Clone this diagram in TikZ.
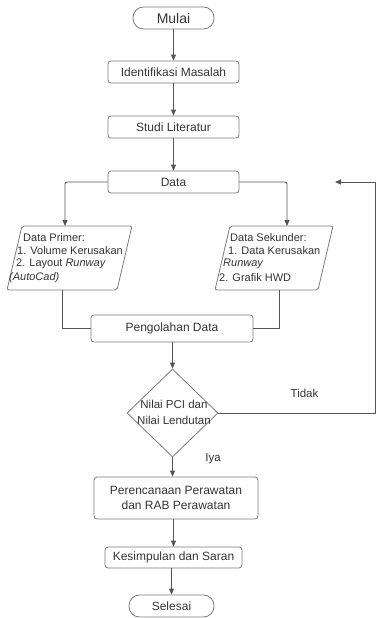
\documentclass[tikz,border=0pt]{standalone}
\usepackage{fontspec}
\setmainfont{Liberation Sans}
\usetikzlibrary{arrows.meta,shapes.geometric}
\definecolor{ln}{HTML}{555555}
\definecolor{bd}{HTML}{7A7A7A}
\definecolor{tx}{HTML}{333333}
\begin{document}
\begin{tikzpicture}[x=1pt,y=-1pt,
  box/.style={draw=bd,line width=0.8pt,rounded corners=3pt,inner sep=0pt,text=tx,font=\fontsize{12}{15}\selectfont,align=center},
  term/.style={box,rounded corners=10.5pt},
  lbl/.style={inner sep=0pt,text=tx,font=\fontsize{11}{13}\selectfont,anchor=west},
  conn/.style={draw=ln,line width=0.9pt},
  arr/.style={conn,-{Triangle[width=5pt,length=6pt]}}
]
\useasboundingbox (0,0) rectangle (376,618);
% nodes
\node[term,minimum width=81pt,minimum height=22pt,font=\fontsize{14}{16}\selectfont] (mulai) at (173.5,18) {Mulai};
\node[box,minimum width=131pt,minimum height=22pt] (ident) at (173.5,72) {Identifikasi Masalah};
\node[box,minimum width=131pt,minimum height=22pt] (studi) at (173.5,127) {Studi Literatur};
\node[box,minimum width=131pt,minimum height=22pt] (data) at (173.5,182) {Data};
% Data Primer parallelogram
\coordinate (p1) at (22,226); \coordinate (p2) at (132,226);
\coordinate (p3) at (117,290); \coordinate (p4) at (7,290);
\draw[draw=bd,line width=0.8pt,rounded corners=2pt] (p1) -- (p2) -- (p3) -- (p4) -- cycle;
\coordinate (primIn) at (65,226);
\coordinate (primOut) at (62,290);
\node[lbl] (pr1) at (23,238) {Data Primer:};
\node[lbl] (pr2) at (17,251) {1. Volume Kerusakan};
\node[lbl] (pr3) at (16,264) {2. Layout \textit{Runway}};
\node[lbl] (pr4) at (9,278) {\textit{(AutoCad)}};
% Data Sekunder parallelogram
\coordinate (s1) at (230,226); \coordinate (s2) at (333,226);
\coordinate (s3) at (318,290); \coordinate (s4) at (215,290);
\draw[draw=bd,line width=0.8pt,rounded corners=2pt] (s1) -- (s2) -- (s3) -- (s4) -- cycle;
\coordinate (sekIn) at (287,226);
\coordinate (sekOut) at (279,290);
\node[lbl] (se1) at (230,238) {Data Sekunder:};
\node[lbl] (se2) at (228,251) {1. Data Kerusakan};
\node[lbl] (se3) at (223,264) {\textit{Runway}};
\node[lbl] (se4) at (219,278) {2. Grafik HWD};
% Pengolahan
\node[box,minimum width=162pt,minimum height=27pt] (olah) at (172,328.5) {Pengolahan Data};
% Decision
\node[diamond,draw=bd,line width=0.8pt,minimum width=91pt,minimum height=88pt,inner sep=0pt] (dec) at (172.5,413) {};
\node[inner sep=0pt,text=tx,font=\fontsize{11.5}{16}\selectfont,align=center] (dectxt) at (174,412) {Nilai PCI dan\\Nilai Lendutan};
\node[box,minimum width=164pt,minimum height=42pt] (renc) at (176,498) {Perencanaan Perawatan\\dan RAB Perawatan};
\node[box,minimum width=137pt,minimum height=21pt] (kesim) at (173.5,557.5) {Kesimpulan dan Saran};
\node[term,minimum width=85pt,minimum height=22pt] (selesai) at (171.5,606) {Selesai};
\node[inner sep=0pt,text=tx,font=\fontsize{11.5}{14}\selectfont] (iya) at (213,459) {Iya};
\node[inner sep=0pt,text=tx,font=\fontsize{11.5}{14}\selectfont] (tidak) at (304.5,393) {Tidak};
% connectors
\draw[arr] (mulai) -- (ident);
\draw[arr] (ident) -- (studi);
\draw[arr] (studi) -- (data);
\draw[arr,rounded corners=2pt] (data.west) -| (primIn);
\draw[arr,rounded corners=2pt] (data.east) -| (sekIn);
\draw[conn] (primOut) |- (olah.west);
\draw[conn] (sekOut) |- (olah.east);
\draw[arr] (olah.south -| dec.north) -- (dec.north);
\draw[arr] (dec.south) -- (dec.south |- renc.north);
\draw[arr] (renc.south -| kesim.north) -- (kesim.north);
\draw[arr] (kesim.south -| selesai.north) -- (selesai.north);
\coordinate (loopA) at (375.5,413);
\coordinate (loopB) at (375.5,182);
\coordinate (loopEnd) at (335,182);
\draw[conn] (dec.east) -- (loopA) -- (loopB);
\draw[arr] (loopB) -- (loopEnd);
\end{tikzpicture}
\end{document}
